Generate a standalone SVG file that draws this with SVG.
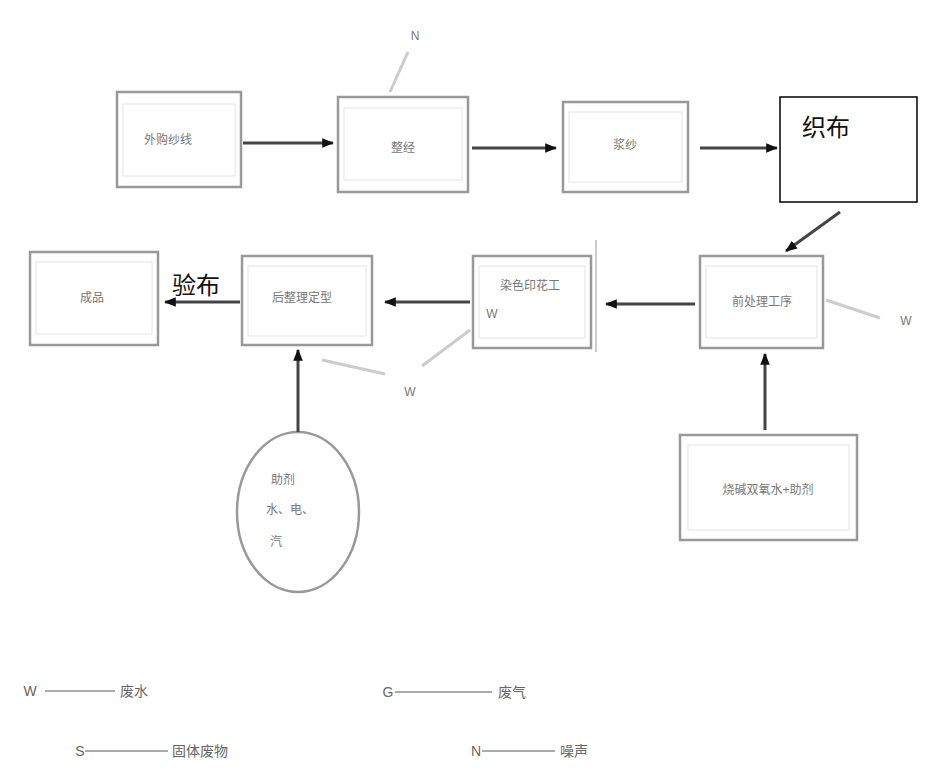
<svg xmlns="http://www.w3.org/2000/svg" width="932" height="776" viewBox="0 0 932 776">
<defs>
<marker id="ah" viewBox="0 0 10 10" refX="9" refY="5" markerWidth="4" markerHeight="4" orient="auto">
<path d="M0,1 L10,5 L0,9 z" fill="#111"/>
</marker>
<style>
.box{fill:#fff;stroke:#999;stroke-width:2.5}
.inner{fill:none;stroke:#e4e4e4;stroke-width:1}
.t{font-family:"Liberation Sans","Noto Sans CJK SC",sans-serif;font-size:12px;fill:#777;text-anchor:middle}
.lg{font-family:"Liberation Sans","Noto Sans CJK SC",sans-serif;font-size:14px;fill:#666;text-anchor:middle}
.tk{font-family:"Liberation Serif","Noto Sans CJK SC",serif;font-size:24px;fill:#111}
.arr{stroke:#444;stroke-width:3;fill:none;marker-end:url(#ah)}
.faint{stroke:#ccc;stroke-width:3;fill:none}
.leg{stroke:#aaa;stroke-width:2}
</style>
</defs>
<rect width="932" height="776" fill="#fff"/>

<g id="n1"><rect class="box" x="117" y="92" width="124" height="95"/><rect class="inner" x="123" y="104" width="112" height="72"/><text class="t" x="168" y="144">外购纱线</text></g>
<g id="n2"><rect class="box" x="338" y="97" width="130" height="95"/><rect class="inner" x="344" y="108" width="118" height="72"/><text class="t" x="403" y="152">整经</text></g>
<g id="n3"><rect class="box" x="563" y="102" width="125" height="90"/><rect class="inner" x="569" y="112" width="113" height="70"/><text class="t" x="625" y="149">浆纱</text></g>
<g id="n4"><rect x="780" y="97" width="137" height="105" fill="#fff" stroke="#000" stroke-width="1.5"/><text class="tk" x="802" y="136">织布</text></g>
<g id="n5"><rect class="box" x="700" y="256" width="123" height="92"/><rect class="inner" x="706" y="266" width="111" height="72"/><text class="t" x="762" y="306">前处理工序</text></g>
<g id="n6"><rect class="box" x="473" y="256" width="118" height="92"/><line x1="596" y1="240" x2="596" y2="352" stroke="#ccc" stroke-width="2"/><rect class="inner" x="479" y="266" width="106" height="72"/><text class="t" x="530" y="290">染色印花工</text><text class="t" x="492" y="318">W</text></g>
<g id="n7"><rect class="box" x="242" y="256" width="130" height="89"/><rect class="inner" x="248" y="266" width="118" height="70"/><text class="t" x="302" y="302">后整理定型</text></g>
<g id="n8"><rect class="box" x="30" y="252" width="128" height="93"/><rect class="inner" x="36" y="262" width="116" height="72"/><text class="t" x="92" y="302">成品</text></g>
<g id="n9"><rect class="box" x="680" y="435" width="177" height="105"/><rect class="inner" x="688" y="445" width="161" height="85"/><text class="t" x="768" y="494">烧碱双氧水+助剂</text></g>
<g id="n10"><ellipse cx="298" cy="512" rx="61" ry="80" fill="#fff" stroke="#999" stroke-width="2.5"/><text class="t" x="283" y="484">助剂</text><text class="t" x="290" y="514">水、电、</text><text class="t" x="276" y="546">汽</text></g>

<g id="connectors">
<line class="arr" x1="243" y1="143" x2="333" y2="143"/>
<line class="arr" x1="472" y1="148" x2="556" y2="148"/>
<line class="arr" x1="700" y1="148" x2="777" y2="148"/>
<line class="arr" x1="840" y1="212" x2="786" y2="251"/>
<line class="arr" x1="695" y1="304" x2="606" y2="304"/>
<line class="arr" x1="470" y1="302" x2="385" y2="302"/>
<line class="arr" x1="240" y1="302" x2="165" y2="302"/>
<line class="arr" x1="765" y1="430" x2="765" y2="354"/>
<line class="arr" x1="298" y1="432" x2="298" y2="350"/>
<line class="faint" x1="390" y1="92" x2="408" y2="52"/>
<line class="faint" x1="826" y1="300" x2="880" y2="318"/>
<line class="faint" x1="322" y1="360" x2="385" y2="374"/>
<line class="faint" x1="470" y1="330" x2="422" y2="366"/>
<line class="leg" x1="45" y1="691" x2="115" y2="691"/>
<line class="leg" x1="85" y1="751" x2="168" y2="751"/>
<line class="leg" x1="395" y1="692" x2="492" y2="692"/>
<line class="leg" x1="482" y1="751" x2="555" y2="751"/>
</g>

<g id="labels">
<text class="tk" x="172" y="294">验布</text>
<text class="t" x="415" y="40">N</text>
<text class="t" x="906" y="325">W</text>
<text class="t" x="410" y="396">W</text>
<text class="lg" x="30" y="696">W</text><text class="lg" x="134" y="696">废水</text>
<text class="lg" x="80" y="756">S</text><text class="lg" x="200" y="756">固体废物</text>
<text class="lg" x="388" y="697">G</text><text class="lg" x="512" y="697">废气</text>
<text class="lg" x="476" y="756">N</text><text class="lg" x="574" y="756">噪声</text>
</g>
</svg>
